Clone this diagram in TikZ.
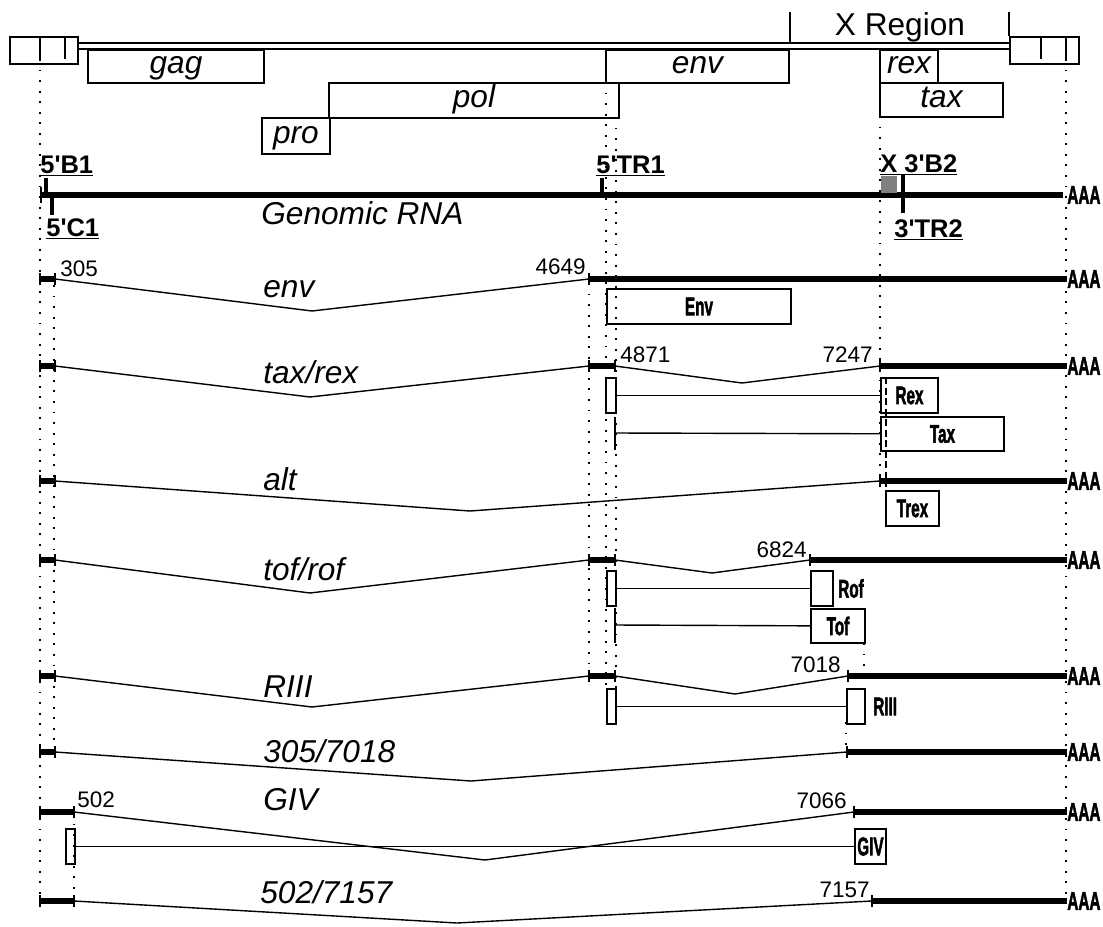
\documentclass[tikz,border=0pt]{standalone}
\usepackage{fontspec}
\setmainfont{Liberation Sans}
\newfontfamily\heavyfont[FakeBold=2.5]{Liberation Sans Bold}
\usetikzlibrary{positioning}
\newcommand{\narrowbf}[1]{\scalebox{0.6}[1]{\heavyfont #1}}
\tikzset{orf/.style 2 args={draw,line width=1.1pt,inner sep=0pt,anchor=north west,minimum width=#1*0.02cm,minimum height=#2*0.02cm,font=\fontsize{18}{20}\selectfont\itshape,text height=12pt,text depth=3.5pt}, prot/.style 2 args={draw,line width=1.1pt,inner sep=0pt,anchor=north west,minimum width=#1*0.02cm,minimum height=#2*0.02cm,font=\fontsize{14.5}{16}\selectfont}, rna/.style={font=\fontsize{18}{20}\selectfont\itshape,anchor=base west,inner sep=0pt}, num/.style={font=\fontsize{12.8}{14}\selectfont,inner sep=0pt}, site/.style={font=\fontsize{14.5}{16}\selectfont\bfseries,anchor=base west,inner sep=0pt}, polya/.style={font=\fontsize{14.5}{16}\selectfont,anchor=west,inner sep=0pt}, pname/.style={font=\fontsize{14.5}{16}\selectfont,inner sep=0pt,right=0.08cm}, exon/.style={line width=3pt}, intron/.style={line width=0.8pt}, endtick/.style={line width=1.2pt}, frame/.style={line width=1.1pt}, guide/.style={line width=1pt,dash pattern=on 1.1pt off 4.9pt}, orfsplit/.style={line width=0.8pt,dash pattern=on 4pt off 2pt}}
\begin{document}
\begin{tikzpicture}[x=0.02cm,y=-0.02cm]
\useasboundingbox (0,0) rectangle (1103,927);
% guide lines
\draw[guide] (40,59)--(40,900) (54,285)--(54,751) (74,813)--(74,900) (589,283)--(589,675) (606,82)--(606,688) (616,117)--(616,688) (880,116)--(880,480) (864,643)--(864,676) (846,722)--(846,752) (1066,59)--(1066,900);
% provirus map
\node[orf={68}{23}] (ltrL) at (9,36) {};
\node[orf={69}{23}] (ltrR) at (1009,36) {};
\draw[frame] (40,36)--(40,59) (65,36)--(65,59) (1041,36)--(1041,59) (1066,36)--(1066,59);
\draw[line width=1pt] (77,43)--(1009,43) (77,49)--(1009,49);
\draw[line width=0.8pt] (790,12)--(790,43) (1009,12)--(1009,36);
\node[font=\fontsize{18}{20}\selectfont,anchor=base,inner sep=0pt] (xreg) at (900,35) {X Region};
\node[orf={176}{33}] (gag) at (87,49) {gag};
\node[orf={290}{35}] (pol) at (328,82) {pol};
\node[orf={68}{36}] (pro) at (261,117) {pro};
\node[orf={183}{33}] (env) at (605,49) {env};
\node[orf={58}{33}] (rex) at (879,49) {rex};
\node[orf={123}{34}] (tax) at (879,82) {tax};
% genomic RNA
\draw[exon] (41,195)--(1063,195);
\draw[endtick] (41,187)--(41,203);
\draw[line width=2.3pt] (46,178)--(46,195) (602,178)--(602,195) (903,175)--(903,213);
\draw[line width=2.8pt] (52,195)--(52,215);
\fill[black!50] (881,176) rectangle (897,193);
\node[site] (b1) at (40,173) {\underline{5\textquotesingle B1}};
\node[site] (c1) at (46,236) {\underline{5\textquotesingle C1}};
\node[site] (tr1) at (596,173) {\underline{5\textquotesingle TR1}};
\node[site] (b2) at (880,172) {\underline{X 3\textquotesingle B2}};
\node[site] (tr2) at (894,237) {\underline{3\textquotesingle TR2}};
\node[rna] (genomic) at (261,224) {Genomic RNA};
% leader exons and poly(A)
\foreach \y in {279,366,481,560,676,752} {
  \draw[exon] (40,\y)--(55,\y);
  \draw[endtick] (40,\y-6)--(40,\y+6) (55,\y-6)--(55,\y+6);
}
\foreach \y in {812,901} {
  \draw[exon] (40,\y)--(74,\y);
  \draw[endtick] (40,\y-6)--(40,\y+6) (74,\y-6)--(74,\y+6);
}
\foreach \y/\n in {195/genomic,279/env,366/taxrex,481/alt,560/tofrof,676/riii,752/sp,812/giv,901/spb} \node[polya] (aaa\n) at (1067,\y) {\narrowbf{AAA}};
\foreach \x/\y in {589/366,589/560,589/676} {
  \draw[exon] (\x,\y)--(615,\y);
  \draw[endtick] (\x,\y-6)--(\x,\y+6) (615,\y-6)--(615,\y+6);
}
\foreach \x/\y/\n in {589/279/env,880/366/taxrex,880/481/alt,810/560/tofrof,848/676/riii,847/752/sp,854/812/giv,872/901/spb} {
  \draw[exon] (\x,\y)--(aaa\n);
  \draw[endtick] (\x,\y-6)--(\x,\y+6);
}
% spliced mRNAs
\draw[intron] (55,279)--(312,311)--(589,279);
\draw[intron] (55,366)--(310,397)--(589,366) (615,366)--(742,383)--(880,366);
\draw[intron] (55,481)--(470,511)--(880,481);
\draw[intron] (55,560)--(310,593)--(589,560) (615,560)--(712,573)--(810,560);
\draw[intron] (55,676)--(312,707)--(589,676) (615,676)--(735,694)--(848,676);
\draw[intron] (55,752)--(471,781)--(847,752);
\draw[intron] (74,812)--(485,860)--(854,812);
\draw[intron] (74,901)--(457,923)--(872,901);
\node[rna] (lenv) at (263,297) {env};
\node[rna] (ltaxrex) at (263,383) {tax/rex};
\node[rna] (lalt) at (263,490) {alt};
\node[rna] (ltofrof) at (263,580) {tof/rof};
\node[rna] (lriii) at (263,697) {RIII};
\node[rna] (lsp) at (263,762) {305/7018};
\node[rna] (lgiv) at (263,810) {GIV};
\node[rna] (lspb) at (260,903) {502/7157};
\node[num,anchor=base west] (s305) at (60,276) {305};
\node[num,anchor=base east] (s4649) at (586,274) {4649};
\node[num,anchor=base west] (s4871) at (620,362) {4871};
\node[num,anchor=base east] (s7247) at (873,362) {7247};
\node[num,anchor=base east] (s6824) at (807,557) {6824};
\node[num,anchor=base east] (s7018) at (841,672) {7018};
\node[num,anchor=base west] (s502) at (77,807) {502};
\node[num,anchor=base east] (s7066) at (847,808) {7066};
\node[num,anchor=base east] (s7157) at (870,897) {7157};
% proteins
\node[prot={184}{35}] (envp) at (606,288) {\narrowbf{Env}};
\node[prot={10}{35}] (rexstart) at (605,377) {};
\node[prot={57}{35}] (rexp) at (880,377) {\narrowbf{Rex}};
\draw[intron] (rexstart)--(rexp);
\draw[endtick] (615,417)--(615,450);
\coordinate (taxstart) at (615,433);
\node[prot={123}{34}] (taxp) at (880,416) {\narrowbf{Tax}};
\draw[intron] (taxstart)--(taxp);
\draw[orfsplit] (886,377)--(886,487);
\node[prot={53}{35}] (trexp) at (885,490) {\narrowbf{Trex}};
\node[prot={9}{35}] (rofstart) at (606,570) {};
\node[prot={22}{35}] (rofp) at (810,570) {};
\node[pname] (rofname) [right=0.08cm of rofp] {\narrowbf{Rof}};
\draw[intron] (rofstart)--(rofp);
\draw[endtick] (615,608)--(615,643);
\coordinate (tofstart) at (615,625);
\node[prot={54}{34}] (tofp) at (810,608) {\narrowbf{Tof}};
\draw[intron] (tofstart)--(tofp);
\node[prot={9}{35}] (riiistart) at (606,688) {};
\node[prot={18}{35}] (riiip) at (846,688) {};
\node[pname] (riiiname) [right=0.14cm of riiip] {\narrowbf{RIII}};
\draw[intron] (riiistart)--(riiip);
\node[prot={9}{35}] (givstart) at (65,828) {};
\node[prot={31}{35}] (givp) at (854,828) {\narrowbf{GIV}};
\draw[intron] (givstart)--(givp);
\end{tikzpicture}
\end{document}
